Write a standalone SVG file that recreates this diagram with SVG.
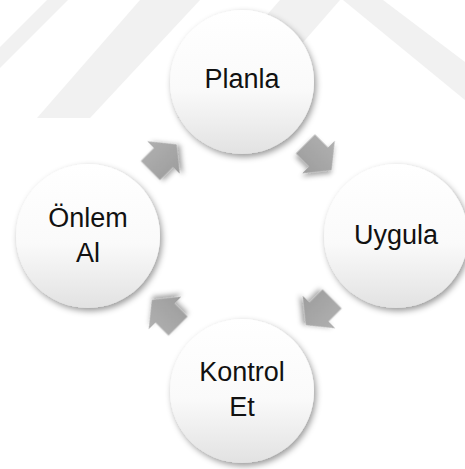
<svg xmlns="http://www.w3.org/2000/svg" width="465" height="469" viewBox="0 0 465 469">
  <style>
    .band { fill: #f1f1f1; }
    .node circle { fill: url(#discFill); filter: url(#discShadow); }
    .node text { font-family: "Liberation Sans", Arial, sans-serif; font-size: 27px; fill: #111111; text-anchor: middle; }
    .arrow { fill: url(#arrowFill); filter: url(#arrowShadow); }
  </style>
  <defs>
    <linearGradient id="discFill" x1="0" y1="0" x2="0" y2="1">
      <stop offset="0" stop-color="#ffffff"/>
      <stop offset="0.55" stop-color="#fafafa"/>
      <stop offset="1" stop-color="#e2e2e2"/>
    </linearGradient>
    <linearGradient id="arrowFill" x1="0" y1="0" x2="0" y2="1">
      <stop offset="0" stop-color="#b0b0b0"/>
      <stop offset="1" stop-color="#9d9d9d"/>
    </linearGradient>
    <filter id="discShadow" x="-20%" y="-20%" width="145%" height="145%">
      <feDropShadow dx="2" dy="3" stdDeviation="3" flood-color="#000000" flood-opacity="0.4"/>
    </filter>
    <filter id="arrowShadow" x="-30%" y="-30%" width="170%" height="170%">
      <feDropShadow dx="2" dy="3" stdDeviation="2.5" flood-color="#000000" flood-opacity="0.35"/>
    </filter>
    <!-- block arrow pointing along +x, centred on its own length -->
    <path id="blockArrow" d="M-18.5,-13.5 L0,-13.5 L0,-23 L18.5,0 L0,23 L0,13.5 L-18.5,13.5 Z"/>
  </defs>

  <rect width="465" height="469" fill="#ffffff"/>

  <!-- faint diagonal background bands -->
  <g id="background">
    <polygon class="band" points="47,0 68,0 0,68 0,47"/>
    <polygon class="band" points="140,0 200,0 90,118 37,118"/>
    <polygon class="band" points="280,0 340,0 237,118 177,118"/>
    <polygon class="band" points="343,0 383,0 465,62 465,100"/>
  </g>

  <g id="connectors">
    <use href="#blockArrow" class="arrow" transform="translate(318.5,157) rotate(45)"/>
    <use href="#blockArrow" class="arrow" transform="translate(319,312) rotate(135)"/>
    <use href="#blockArrow" class="arrow" transform="translate(165,313) rotate(225)"/>
    <use href="#blockArrow" class="arrow" transform="translate(163.5,157.5) rotate(-45)"/>
  </g>

  <g id="node-planla" class="node">
    <circle cx="242" cy="82" r="72"/>
    <text x="242" y="88">Planla</text>
  </g>
  <g id="node-uygula" class="node">
    <circle cx="396" cy="236" r="72"/>
    <text x="396" y="244">Uygula</text>
  </g>
  <g id="node-kontrol" class="node">
    <circle cx="242" cy="391" r="72"/>
    <text x="242" y="381">Kontrol</text>
    <text x="242" y="416">Et</text>
  </g>
  <g id="node-onlem" class="node">
    <circle cx="88" cy="236" r="72"/>
    <text x="88" y="227">Önlem</text>
    <text x="88" y="262">Al</text>
  </g>
</svg>
